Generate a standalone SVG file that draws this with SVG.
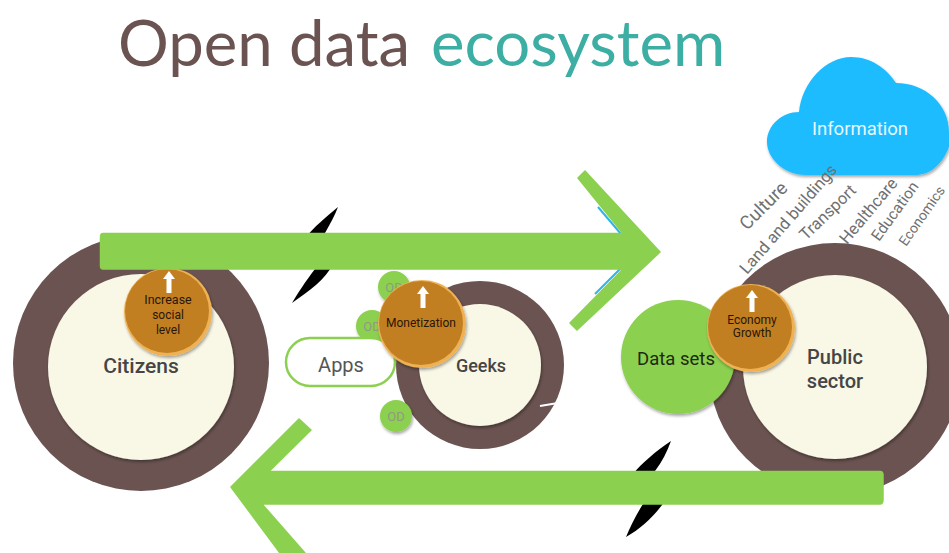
<svg xmlns="http://www.w3.org/2000/svg" width="949" height="553" viewBox="0 0 949 553">
<defs>
<filter id="sh" x="-20%" y="-20%" width="140%" height="140%"><feDropShadow dx="1" dy="2" stdDeviation="1.5" flood-color="#000" flood-opacity=".35"/></filter>
<g id="up"><path d="M0-11 6-3H2.500V11H-2.500V-3H-6Z" fill="#fff"/></g>
</defs>
<style>
text{font-family:Roboto,"Liberation Sans",sans-serif;text-anchor:middle}
.title{font-family:Lato,"Open Sans",sans-serif;font-size:63.500px;text-anchor:start}
.ring{fill:#6a5350}
.core{fill:#f9f7e6;filter:url(#sh)}
.rim{fill:#eeb254;filter:url(#sh)}
.coin{fill:#c17f22}
.green{fill:#8cd050;stroke:#8cd050;stroke-width:1.500;stroke-linejoin:round}
.od{fill:#8cd050;filter:url(#sh)}
.odt{font-size:13px;fill:#8f9b80}
.big{font-size:21px;font-weight:500;fill:#454545}
.ct{font-size:12px;fill:#2a1607}
.lab{fill:#707070;text-anchor:start}
</style>
<text class="title" x="118" y="66" fill="#6a5350">Open data</text>
<text class="title" x="431" y="66" fill="#3caea3">ecosystem</text>

<g id="cloud">
<path d="M799 112C802 82 826 57 851 57C871 57 886 68 896 83C925 83 949 104 949 132V147C942 165 930 175 915 175H805C784 175 767 158 767 142C767 125 782 112 799 112Z" fill="#1fbcff" filter="url(#sh)"/>
<text x="860" y="135" fill="#e8f6ff" font-size="18.500">Information</text>
</g>

<g id="sectors">
<text class="lab" font-size="18.500" transform="translate(747 231) rotate(-45)">Culture</text>
<text class="lab" font-size="16.500" transform="translate(747 275) rotate(-49)">Land and buildings</text>
<text class="lab" font-size="16.500" transform="translate(806 241) rotate(-44)">Transport</text>
<text class="lab" font-size="16.500" transform="translate(847 245) rotate(-50)">Healthcare</text>
<text class="lab" font-size="15.500" transform="translate(879 242) rotate(-54)">Education</text>
<text class="lab" font-size="14" transform="translate(906 247) rotate(-55)">Economics</text>
</g>

<g id="citizens">
<circle class="ring" cx="141" cy="363" r="128"/>
<circle class="core" cx="141" cy="367" r="93"/>
<text class="big" x="141" y="373">Citizens</text>
</g>
<g id="geeks">
<circle class="ring" cx="480" cy="365" r="84"/>
<circle class="core" cx="480" cy="365" r="61"/>
<text class="big" x="481" y="372" style="font-size:18px">Geeks</text>
<path d="M540 406 558 403" stroke="#fff" stroke-width="2"/>
</g>
<g id="public-sector">
<circle class="ring" cx="835" cy="369" r="126"/>
<circle class="core" cx="835" cy="367" r="92"/>
<text class="big" x="835" y="364" style="font-size:20px">Public</text>
<text class="big" x="835" y="388" style="font-size:20px">sector</text>
</g>
<g id="data-sets">
<circle class="od" cx="678" cy="357" r="57"/>
<text x="676" y="365" font-size="18.500" fill="#1c2a12">Data sets</text>
</g>
<g id="od-1"><circle class="od" cx="394" cy="287" r="16"/><text class="odt" x="394" y="292">OD</text></g>
<g id="od-2"><circle class="od" cx="372" cy="326" r="16"/><text class="odt" x="372" y="331">OD</text></g>
<g id="od-3"><circle class="od" cx="396" cy="416" r="16"/><text class="odt" x="396" y="421">OD</text></g>
<g id="apps">
<rect x="286" y="338" width="109" height="48" rx="24" fill="#fff" stroke="#8cd050" stroke-width="2.500"/>
<text x="341" y="372" font-size="20" fill="#555">Apps</text>
</g>
<g id="coin-social">
<circle class="rim" cx="168" cy="312" r="44"/><circle class="coin" cx="167" cy="311" r="42"/>
<use href="#up" x="169" y="282"/>
<text class="ct" x="168" y="304" style="font-size:12.500px">Increase</text><text class="ct" x="168" y="319">social</text><text class="ct" x="168" y="334">level</text>
</g>
<g id="coin-money">
<circle class="rim" cx="422" cy="324" r="44"/><circle class="coin" cx="421" cy="323" r="42"/>
<use href="#up" x="423" y="297"/>
<text class="ct" x="421" y="327">Monetization</text>
</g>
<g id="coin-economy">
<circle class="rim" cx="751" cy="328" r="44"/><circle class="coin" cx="750" cy="327" r="42"/>
<use href="#up" x="752" y="301"/>
<text class="ct" x="752" y="324">Economy</text><text class="ct" x="752" y="337">Growth</text>
</g>

<g id="connectors">
<path d="M338 207C325 218 315 226 305 238L315 269C305 282 298 293 292 303C310 290 325 280 333 264L325 233C330 224 335 215 338 207Z" fill="#000"/>
<path d="M671 441C655 452 643 462 633 474L643 504C636 515 630 527 626 537C642 528 655 515 665 501L655 471C662 462 667 452 671 441Z" fill="#000"/>
<path d="M598 207 621 234M595 294 621 268" stroke="#30b4e8" stroke-width="2" fill="none"/>
<path class="green" d="M103 233.500H623L578 178 585 171 660 252 577 330 570 323 623 269H103Q100.500 269 100.500 266V237Q100.500 233.500 103 233.500Z"/>
<path class="green" d="M880 471.500H269L311 430 299 419 231 487 280 553H305L262 504H880Q883 504 883 500V475Q883 471.500 880 471.500Z"/>
</g>
</svg>
